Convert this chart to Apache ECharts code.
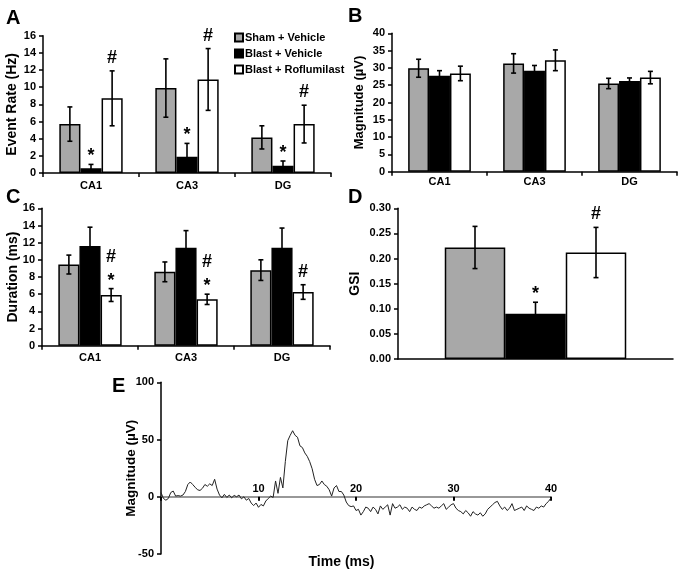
<!DOCTYPE html>
<html><head><meta charset="utf-8">
<script src="https://cdn.jsdelivr.net/npm/echarts@6/dist/echarts.min.js"></script>
<style>html,body{margin:0;padding:0;background:#fff}#c{width:683px;height:578px}</style>
</head><body><div id="c"></div>
<script>
// ---------------- data ----------------
const groups = ['Sham + Vehicle', 'Blast + Vehicle', 'Blast + Roflumilast'];
const regions = ['CA1', 'CA3', 'DG'];

// A: Event rate (Hz)
const rateSham = [5.7, 9.9, 4.15];
const rateShamErr = [2.0, 3.4, 1.35];
const rateBlast = [0.55, 1.9, 0.85];
const rateBlastErr = [0.45, 1.55, 0.55];
const rateRof = [8.7, 10.9, 5.7];
const rateRofErr = [3.2, 3.6, 2.2];
const rateTicks = [0, 16, 2];

// B: Magnitude (µV)
const magSham = [29.9, 31.3, 25.5];
const magShamErr = [2.6, 2.8, 1.5];
const magBlast = [27.7, 29.2, 26.2];
const magBlastErr = [1.5, 1.5, 0.9];
const magRof = [28.4, 32.2, 27.2];
const magRofErr = [2.1, 3.0, 1.8];
const magTicks = [0, 40, 5];

// C: Duration (ms)
const durSham = [9.45, 8.6, 8.8];
const durShamErr = [1.1, 1.15, 1.2];
const durBlast = [11.6, 11.4, 11.4];
const durBlastErr = [2.2, 2.0, 2.3];
const durRof = [5.9, 5.4, 6.25];
const durRofErr = [0.75, 0.6, 0.85];
const durTicks = [0, 16, 2];

// D: GSI
const gsiMean = [0.222, 0.09, 0.212];
const gsiErr = [0.042, 0.023, 0.05];
const gsiTicks = [0, 0.30, 0.05];

// significance markers: [region index, group index, symbol, stack level]
const markA = [[0, 1, '*', 0], [0, 2, '#', 0], [1, 1, '*', 0], [1, 2, '#', 0], [2, 1, '*', 0], [2, 2, '#', 0]];
const markC = [[0, 2, '*', 0], [0, 2, '#', 1], [1, 2, '*', 0], [1, 2, '#', 1], [2, 2, '#', 0]];
const markD = [[0, 1, '*', 0], [0, 2, '#', 0]];

// E: example trace, magnitude (µV) sampled every 0.25 ms from 0 to 40 ms
const traceStep = 0.25;
const traceValues = [
  3.7,-1.5,-3,-1.5,3.7,5,0.6,1,0.6,1.5,4.6,10.7,12.9,10.7,8.3,6.1,5.5,7.4,10.7,9.2,11.3,9.8,15.3,6.7,
  1.5,-0.9,2.1,-0.6,1.5,-0.9,1.2,0,1.5,-1.8,0,-3,-1.5,-5.5,-7.7,-5.5,-9.2,-6.7,-8,-3.7,-1.5,0.6,-0.6,13.8,
  3,16.9,7.7,30.7,49,53.7,57.7,53.7,52,44.5,43,38.3,35.3,30.7,24.5,15.3,9.8,10.7,13.8,10.7,9.2,6.1,0.6,7.7,
  9.8,4.6,4.6,1.5,-4.6,-7.7,-8.6,-8,
  -12,-11,-16,-13,-9,-10,-13,-9,-11,-15,-8,-11,-9,-7,-16,-6,-10,-9,-7,-11,
  -9,-10,-13,-9,-11,-12,-9,-10,-8,-7,-6,-8,-10,-9,-10,-8,-6,-11,-9,-7,
  -6,-10,-12,-13,-15,-12,-14,-17,-13,-15,-16,-14,-17,-15,-11,-9,-7,-5,-4,-8,
  -11,-9,-12,-10,-6,-12,-11,-10,-9,-12,-8,-10,-11,-12,-9,-10,-8,-9,-6,-4,
  -1
];
const traceTicks = [-50, 100, 50];
const timeTicks = [0, 40, 10];

// ---------------- chart ----------------
const FONT = "'Liberation Sans', Arial, sans-serif";
const colors = ['#a8a8a8', '#000000', '#ffffff'];
const BAR_FRAC = 0.66;

const grids = [
  {left: 43, top: 35.7, width: 288, height: 137.3},
  {left: 392, top: 33.3, width: 285, height: 138.4},
  {left: 42, top: 208.3, width: 288, height: 137.4},
  {left: 398, top: 208.3, width: 275, height: 150.7},
  {left: 161, top: 382.3, width: 390, height: 171.7}
];
// pixel offset that lifts the time axis from the grid bottom to the zero line
const eZeroOffset = -grids[4].height * (0 - traceTicks[0]) / (traceTicks[1] - traceTicks[0]);

function yAx(gi, ticks, name, gap, fmt, fs) {
  return {
    type: 'value', gridIndex: gi, min: ticks[0], max: ticks[1], interval: ticks[2],
    name: name, nameLocation: 'middle', nameGap: gap, nameMoveOverlap: false,
    nameTextStyle: {fontFamily: FONT, fontWeight: 'bold', fontSize: fs || 14, color: '#000'},
    axisLine: {show: true, lineStyle: {color: '#000', width: 1.5}},
    axisTick: {show: true, length: 4, lineStyle: {color: '#000', width: 1.5}},
    splitLine: {show: false},
    axisLabel: {fontFamily: FONT, fontWeight: 'bold', fontSize: 11, color: '#000', margin: 7,
      formatter: fmt || undefined}
  };
}
function xCat(gi, data, showLabel, margin) {
  return {
    type: 'category', gridIndex: gi, data: data,
    axisLine: {show: true, lineStyle: {color: '#000', width: 1.5}},
    axisTick: {show: showLabel, length: 4, lineStyle: {color: '#000', width: 1.5}},
    axisLabel: {show: showLabel, fontFamily: FONT, fontWeight: 'bold', fontSize: 11, color: '#000', margin: margin}
  };
}

function errRender(params, api) {
  const cat = api.value(0), lo = api.value(1), hi = api.value(2), g = api.value(3);
  const base = api.coord([cat, 0]);
  const band = api.size([1, 0])[0];
  const bw = band * BAR_FRAC / 3;
  const x = base[0] + (g - 1) * bw;
  const yTop = api.coord([cat, hi])[1];
  const yLo = api.coord([cat, lo])[1];
  const cap = 2.5;
  const st = {stroke: '#000', lineWidth: 1.6};
  return {type: 'group', children: [
    {type: 'line', shape: {x1: x, y1: yTop, x2: x, y2: yLo}, style: st},
    {type: 'line', shape: {x1: x - cap, y1: yTop, x2: x + cap, y2: yTop}, style: st},
    {type: 'line', shape: {x1: x - cap, y1: yLo, x2: x + cap, y2: yLo}, style: st}
  ]};
}
function markRender(marks) {
  return function (params, api) {
    const m = marks[params.dataIndex];
    const cat = api.value(0), top = api.value(1), g = api.value(2), lvl = api.value(3);
    const base = api.coord([cat, 0]);
    const band = api.size([1, 0])[0];
    const bw = band * BAR_FRAC / 3;
    const x = base[0] + (g - 1) * bw;
    const y = api.coord([cat, top])[1] - 13 - lvl * 19;
    return {type: 'text', style: {x: x, y: y + (m[2] === '*' ? 5 : 0), text: m[2], align: 'center', verticalAlign: 'middle',
      font: 'bold 18px ' + FONT, fill: '#000'}};
  };
}

function barPanel(gi, means, errs, marks) {
  const out = [];
  means.forEach((arr, g) => {
    out.push({
      type: 'bar', name: groups[g], xAxisIndex: gi, yAxisIndex: gi, data: arr,
      barGap: '0%', barCategoryGap: ((1 - BAR_FRAC) * 100) + '%',
      itemStyle: {color: colors[g], borderColor: '#000', borderWidth: 1.5}
    });
  });
  const errData = [];
  means.forEach((arr, g) => arr.forEach((v, i) => errData.push([i, v - errs[g][i], v + errs[g][i], g])));
  out.push({type: 'custom', xAxisIndex: gi, yAxisIndex: gi, renderItem: errRender, data: errData, z: 5,
    encode: {x: 0, y: [1, 2]}});
  const markData = marks.map(m => [m[0], means[m[1]][m[0]] + errs[m[1]][m[0]], m[1], m[3]]);
  out.push({type: 'custom', xAxisIndex: gi, yAxisIndex: gi, renderItem: markRender(marks), data: markData, z: 6,
    encode: {x: 0, y: 1}, clip: false});
  return out;
}

const dSeriesMeans = gsiMean.map(v => [v]);
const dSeriesErrs = gsiErr.map(v => [v]);

const series = [].concat(
  barPanel(0, [rateSham, rateBlast, rateRof], [rateShamErr, rateBlastErr, rateRofErr], markA),
  barPanel(1, [magSham, magBlast, magRof], [magShamErr, magBlastErr, magRofErr], []),
  barPanel(2, [durSham, durBlast, durRof], [durShamErr, durBlastErr, durRofErr], markC),
  barPanel(3, dSeriesMeans, dSeriesErrs, markD),
  [{
    type: 'line', xAxisIndex: 4, yAxisIndex: 4, showSymbol: false, symbol: 'none',
    data: traceValues.map((v, i) => [i * traceStep, v]),
    lineStyle: {color: '#222', width: 1}
  }]
);

const chart = echarts.init(document.getElementById('c'), null, {renderer: 'canvas'});
chart.setOption({
  backgroundColor: '#fff',
  animation: false,
  grid: grids,
  legend: {
    data: groups, orient: 'vertical', left: 229, top: 27, icon: 'rect',
    itemWidth: 8, itemHeight: 8, itemGap: 5, selectedMode: false,
    textStyle: {fontFamily: FONT, fontWeight: 'bold', fontSize: 11, color: '#000', padding: [0, 0, 0, -3]}
  },
  xAxis: [
    xCat(0, regions, true, 7),
    xCat(1, regions, true, 5),
    xCat(2, regions, true, 7),
    xCat(3, [''], false, 7),
    {
      type: 'value', gridIndex: 4, min: timeTicks[0], max: timeTicks[1], interval: timeTicks[2],
      position: 'bottom', offset: eZeroOffset,
      axisLine: {show: true, onZero: false, lineStyle: {color: '#777', width: 1.5}},
      axisTick: {show: true, inside: false, length: 4, lineStyle: {color: '#000', width: 2}},
      splitLine: {show: false},
      axisLabel: {inside: true, margin: 2, fontFamily: FONT, fontWeight: 'bold', fontSize: 11, color: '#000',
        formatter: v => (v === 0 ? '' : String(v))}
    }
  ],
  yAxis: [
    yAx(0, rateTicks, 'Event Rate (Hz)', 24),
    yAx(1, magTicks, 'Magnitude (µV)', 26, null, 13),
    yAx(2, durTicks, 'Duration (ms)', 22),
    yAx(3, gsiTicks, 'GSI', 36, v => v.toFixed(2)),
    yAx(4, traceTicks, 'Magnitude (µV)', 23, null, 13.5)
  ],
  series: series,
  graphic: [
    {type: 'text', left: 6, top: 8, style: {text: 'A', font: 'bold 20px ' + FONT, fill: '#000'}},
    {type: 'text', left: 348, top: 6, style: {text: 'B', font: 'bold 20px ' + FONT, fill: '#000'}},
    {type: 'text', left: 6, top: 187, style: {text: 'C', font: 'bold 20px ' + FONT, fill: '#000'}},
    {type: 'text', left: 348, top: 187, style: {text: 'D', font: 'bold 20px ' + FONT, fill: '#000'}},
    {type: 'text', left: 112, top: 376, style: {text: 'E', font: 'bold 20px ' + FONT, fill: '#000'}},
    {type: 'text', left: 'center', top: 555, style: {text: 'Time (ms)', font: 'bold 14px ' + FONT, fill: '#000'}}
  ]
});
</script>
</body></html>
